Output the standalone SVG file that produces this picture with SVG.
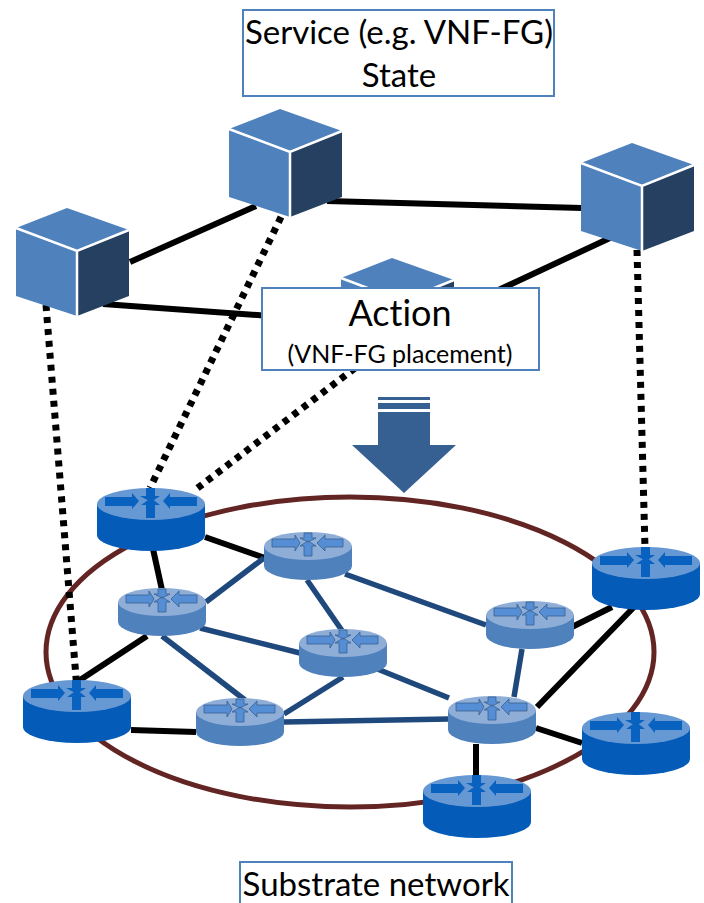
<svg xmlns="http://www.w3.org/2000/svg" xmlns:xlink="http://www.w3.org/1999/xlink" width="704" height="903" viewBox="0 0 704 903">
<style>
text{font-family:"Lato","Liberation Sans",sans-serif;fill:#000;text-anchor:middle;font-variant-ligatures:none}
.box{fill:#fff;stroke:#4f81bd;stroke-width:2}
.k{stroke:#000;stroke-width:6;fill:none}
.b{stroke:#1f497d;stroke-width:5.5;fill:none}
.d{stroke:#000;stroke-width:7;stroke-dasharray:6 6;fill:none}
.t{fill:#4f81bd}.s{fill:#264061}.e{stroke:#fff;stroke-width:2.5;fill:none}
</style>
<defs>
<g id="cube">
<path class="t" d="M0 0L-51 20L10 42L62 22Z"/>
<path class="t" d="M-51 20L10 42V108L-51 88Z"/>
<path class="s" d="M10 42L62 22V88L10 108Z"/>
<path class="e" d="M-51 20L10 43L62 22M10 43V108"/>
</g>
<g id="rd">
<path fill="#055cb8" d="M-54 0V31A54 16 0 0 0 54 31V0Z"/>
<ellipse rx="54" ry="16" fill="#6699d4"/>
<path fill="#0a62c0" d="M-46 -7H-19V-11L-12 -3L-19 5V2H-46ZM46 -7H19V-11L12 -3L19 5V2H46ZM-5 14V1H-10L0 -6L9 1H4V14ZM-5 -16H4V-8H9L0 -2L-11 -8H-5Z"/>
</g>
<g id="rl">
<path fill="#4f81bd" d="M-44 0V20A44 14 0 0 0 44 20V0Z"/>
<ellipse rx="44" ry="14" fill="#8eaed8"/>
<path fill="#558ed5" stroke="#3a5f8f" stroke-width="0.8" d="M-36 -7H-13V-11L-8 -3L-13 5V1H-36ZM35 -7H17V-11L9 -3L17 5V1H35ZM-4 10V0H-8L0 -5L8 0H4V10ZM-4 -13H4V-8H8L0 -4L-8 -8H-4Z"/>
</g>
</defs>
<ellipse id="substrate-ring" cx="350" cy="652" rx="304" ry="155" fill="none" stroke="#632523" stroke-width="5"/>
<g id="connectors">
<path class="k" d="M130 262L256 206M327 201L582 208M103 304L270 316M610 238L490 294"/>
<path class="d" d="M46 305L77 690M281 217L150 488M355 368L195 490M637 250L645 548"/>
<path class="k" d="M205 537L265 558M153 549L162 590M147 636L77 682M131 730L196 732M476 744V775M536 728L582 743M570 628L612 607M537 707L634 607"/>
<path class="b" d="M206 602L264 558M200 628L300 653M162 636L245 700M307 580L343 632M345 574L486 625M343 677L284 714M365 664L449 698M284 722L449 719M522 649L514 697"/>
</g>
<use id="vnf-1" xlink:href="#cube" x="280" y="109"/>
<use id="vnf-2" xlink:href="#cube" x="67" y="208"/>
<use id="vnf-3" xlink:href="#cube" x="632" y="143"/>
<use id="vnf-4" xlink:href="#cube" x="392" y="258"/>
<use id="router-a" xlink:href="#rd" x="151" y="504"/>
<use id="router-b" xlink:href="#rd" x="646" y="563"/>
<use id="router-c" xlink:href="#rd" x="77" y="696"/>
<use id="router-d" xlink:href="#rd" x="636" y="728"/>
<use id="router-e" xlink:href="#rd" x="477" y="791"/>
<use id="router-f" xlink:href="#rl" x="162" y="602"/>
<use id="router-g" xlink:href="#rl" x="308" y="546"/>
<use id="router-h" xlink:href="#rl" x="343" y="643"/>
<use id="router-i" xlink:href="#rl" x="530" y="615"/>
<use id="router-j" xlink:href="#rl" x="240" y="712"/>
<use id="router-k" xlink:href="#rl" x="492" y="710"/>
<g id="state-box">
<rect class="box" x="243" y="10" width="311" height="86"/>
<text x="399" y="44" font-size="33">Service (e.g. VNF-FG)</text>
<text x="399" y="87" font-size="33">State</text>
</g>
<g id="action-box">
<rect class="box" x="262" y="288" width="277" height="82"/>
<text x="400" y="326" font-size="36">Action</text>
<text x="400" y="363" font-size="25">(VNF-FG placement)</text>
</g>
<g id="arrow">
<path fill="#376092" d="M378 397H430V400H378ZM378 403H430V409H378ZM378 412H430V445H456L404 493L352 445H378Z"/>
</g>
<g id="substrate-box">
<rect class="box" x="240" y="862" width="272" height="42"/>
<text x="376" y="895.5" font-size="33">Substrate network</text>
</g>
</svg>
